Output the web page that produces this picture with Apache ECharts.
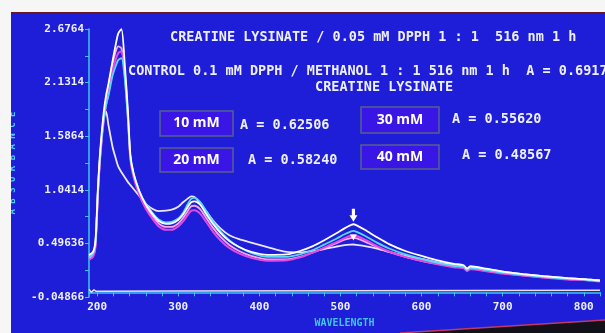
<!DOCTYPE html>
<html>
<head>
<meta charset="utf-8">
<script src="https://cdn.jsdelivr.net/npm/echarts@6.0.0/dist/echarts.min.js"></script>
<style>
  html, body { margin: 0; padding: 0; background: #ffffff; }
  #chart { width: 605px; height: 333px; }
</style>
</head>
<body>
<div id="chart"></div>
<script>
// wavelength grid (nm) shared by all sample spectra
const wavelength = [190, 195, 198, 201, 204, 208, 211, 214, 219, 223,
  226, 230, 234, 238, 241, 245, 252, 260, 268, 276,
  285, 292, 300, 306, 312, 316, 320, 327, 335, 343,
  352, 363, 375, 390, 410, 434, 450, 466, 480, 495,
  505, 512, 516, 520, 530, 545, 560, 580, 600, 620,
  640, 652, 656, 660, 680, 700, 725, 750, 780, 800,
  813, 820]

const control = [0.38, 0.41, 0.53, 1.06, 1.46, 1.82, 2.00, 2.12, 2.35, 2.52,
  2.63, 2.676, 2.33, 1.84, 1.40, 1.21, 1.03, 0.89, 0.80, 0.725,
  0.695, 0.70, 0.735, 0.79, 0.87, 0.915, 0.925, 0.89, 0.79, 0.695,
  0.605, 0.52, 0.46, 0.41, 0.38, 0.385, 0.42, 0.47, 0.53, 0.60,
  0.65, 0.68, 0.692, 0.68, 0.635, 0.56, 0.49, 0.42, 0.37, 0.325,
  0.29, 0.275, 0.24, 0.265, 0.24, 0.21, 0.185, 0.165, 0.145, 0.135,
  0.125, 0.12]

const mM10 = [0.36, 0.39, 0.50, 1.04, 1.42, 1.75, 1.90, 2.00, 2.20, 2.30,
  2.36, 2.38, 2.18, 1.76, 1.38, 1.20, 1.03, 0.90, 0.81, 0.74,
  0.71, 0.715, 0.75, 0.81, 0.90, 0.95, 0.96, 0.92, 0.82, 0.72,
  0.62, 0.53, 0.46, 0.40, 0.36, 0.36, 0.385, 0.43, 0.485, 0.545,
  0.59, 0.615, 0.625, 0.615, 0.575, 0.505, 0.445, 0.385, 0.34, 0.30,
  0.27, 0.258, 0.228, 0.248, 0.225, 0.20, 0.178, 0.158, 0.138, 0.13,
  0.12, 0.115]

const mM20 = [0.33, 0.36, 0.46, 1.00, 1.39, 1.73, 1.90, 2.02, 2.25, 2.37,
  2.43, 2.45, 2.22, 1.77, 1.35, 1.17, 0.99, 0.85, 0.75, 0.67,
  0.635, 0.635, 0.67, 0.72, 0.79, 0.83, 0.835, 0.80, 0.71, 0.615,
  0.53, 0.45, 0.395, 0.35, 0.32, 0.325, 0.355, 0.405, 0.455, 0.51,
  0.55, 0.575, 0.582, 0.572, 0.535, 0.47, 0.415, 0.36, 0.32, 0.285,
  0.255, 0.245, 0.215, 0.235, 0.215, 0.19, 0.17, 0.15, 0.13, 0.125,
  0.115, 0.11]

const mM30 = [0.34, 0.37, 0.48, 1.02, 1.42, 1.78, 1.96, 2.10, 2.32, 2.45,
  2.50, 2.48, 2.25, 1.80, 1.37, 1.19, 1.01, 0.87, 0.78, 0.70,
  0.665, 0.665, 0.70, 0.755, 0.83, 0.875, 0.88, 0.845, 0.75, 0.655,
  0.565, 0.48, 0.42, 0.37, 0.335, 0.335, 0.36, 0.405, 0.45, 0.50,
  0.535, 0.55, 0.556, 0.548, 0.515, 0.46, 0.41, 0.36, 0.32, 0.288,
  0.26, 0.25, 0.222, 0.24, 0.218, 0.195, 0.172, 0.153, 0.135, 0.127,
  0.118, 0.113]

const mM40 = [0.36, 0.39, 0.50, 1.00, 1.40, 1.76, 1.84, 1.70, 1.48, 1.36,
  1.28, 1.22, 1.17, 1.12, 1.09, 1.05, 0.98, 0.90, 0.85, 0.825,
  0.83, 0.84, 0.87, 0.915, 0.955, 0.975, 0.97, 0.90, 0.82, 0.73,
  0.65, 0.58, 0.54, 0.505, 0.46, 0.41, 0.405, 0.42, 0.44, 0.465,
  0.48, 0.485, 0.486, 0.482, 0.47, 0.445, 0.41, 0.37, 0.34, 0.305,
  0.28, 0.265, 0.24, 0.258, 0.235, 0.21, 0.185, 0.165, 0.145, 0.135,
  0.125, 0.12]

// blank / baseline trace
const baselineNm = [190, 193, 196, 199, 205, 300, 500, 820]
const baseline = [0.03, 0.0, 0.025, 0.01, 0.012, 0.014, 0.016, 0.02]

const yTicks = [-0.04866, 0.49636, 1.0414, 1.5864, 2.1314, 2.6764]
const yMinor = [0.22385, 0.76888, 1.3139, 1.8589, 2.4039]
const xTicks = [200, 300, 400, 500, 600, 700, 800]

const boxes = [
  { label: '10 mM', a: 'A = 0.62506' },
  { label: '20 mM', a: 'A = 0.58240' },
  { label: '30 mM', a: 'A = 0.55620' },
  { label: '40 mM', a: 'A = 0.48567' }
]

const BG = '#1e1ed8'
const CYAN = '#3ec6ea'
const TXT = '#eef0ff'
const MONO = '"DejaVu Sans Mono", monospace'

const xMinor = []
for (let w = 200; w <= 820; w += 20) xMinor.push(w)

function pairs(xs, ys) {
  return xs.map((x, i) => [x, ys[i]])
}

function spectrum(name, ys, color, width) {
  return {
    name,
    type: 'line',
    data: pairs(wavelength, ys),
    showSymbol: false,
    smooth: 0.25,
    lineStyle: { color, width: width || 1.8 },
    itemStyle: { color },
    emphasis: { disabled: true }
  }
}

const boxPos = [[160, 111, 73, 25], [160, 148, 73, 24], [361, 107, 78, 26], [361, 145, 78, 24]]
const aPos = [[240, 125], [248, 160], [452, 119], [462, 155]]

const graphics = [
  { type: 'rect', shape: { x: 0, y: 0, width: 605, height: 13 }, style: { fill: '#f6f6f6' }, z: 100 },
  { type: 'line', shape: { x1: 11, y1: 13, x2: 605, y2: 13 }, style: { stroke: '#6b1826', lineWidth: 2 }, z: 100 },
  { type: 'rect', shape: { x: 0, y: 0, width: 11, height: 333 }, style: { fill: '#f6f6f6' }, z: 100 },
  { type: 'polygon', shape: { points: [[400, 333], [605, 320], [605, 333]] }, style: { fill: '#121018' }, z: 100 },
  { type: 'polyline', shape: { points: [[400, 333], [605, 320]] }, style: { stroke: '#c23a63', lineWidth: 1.5 }, z: 100 },
  {
    type: 'text', left: 170, top: 30, z: 100,
    style: { text: 'CREATINE LYSINATE / 0.05 mM DPPH 1 : 1  516 nm 1 h', fill: TXT, font: 'bold 13.5px ' + MONO }
  },
  {
    type: 'text', left: 128, top: 64, z: 100,
    style: { text: 'CONTROL 0.1 mM DPPH / METHANOL 1 : 1 516 nm 1 h  A = 0.69176', fill: TXT, font: 'bold 13.5px ' + MONO }
  },
  {
    type: 'text', left: 315, top: 80, z: 100,
    style: { text: 'CREATINE LYSINATE', fill: TXT, font: 'bold 13.5px ' + MONO }
  }
]

boxes.forEach((b, i) => {
  const [x, y, w, h] = boxPos[i]
  graphics.push({
    type: 'rect', z: 100,
    shape: { x, y, width: w, height: h },
    style: { fill: '#3a16e6', stroke: '#56628c', lineWidth: 1.5 }
  })
  graphics.push({
    type: 'text', z: 101, x: x + w / 2, y: y + h / 2,
    style: { text: b.label, fill: '#ffffff', font: 'bold 14px "Open Sans", sans-serif', align: 'center', verticalAlign: 'middle' }
  })
  graphics.push({
    type: 'text', z: 101, x: aPos[i][0], y: aPos[i][1],
    style: { text: b.a, fill: TXT, font: 'bold 13.5px ' + MONO, verticalAlign: 'middle' }
  })
})

const chart = echarts.init(document.getElementById('chart'), null, { renderer: 'canvas' })

chart.setOption({
  backgroundColor: BG,
  animation: false,
  grid: { left: 88, right: 5, top: 29, bottom: 26 },
  xAxis: {
    type: 'value',
    min: 190,
    max: 820,
    name: 'WAVELENGTH',
    nameLocation: 'middle',
    nameGap: 20,
    nameTextStyle: { color: CYAN, fontFamily: MONO, fontSize: 10, fontWeight: 'bold' },
    axisLine: { lineStyle: { color: CYAN, width: 1.5 } },
    axisTick: { customValues: xMinor, length: 4, lineStyle: { color: CYAN } },
    axisLabel: { customValues: xTicks, color: TXT, fontFamily: MONO, fontSize: 11, fontWeight: 'bold', margin: 5 },
    splitLine: { show: false }
  },
  yAxis: {
    type: 'value',
    min: -0.04866,
    max: 2.6764,
    name: 'A B S O R B A N C E',
    nameLocation: 'middle',
    nameRotate: 90,
    nameGap: 72,
    nameTextStyle: { color: '#48d2f2', fontFamily: MONO, fontSize: 9, fontWeight: 'bold' },
    axisLine: { show: true, lineStyle: { color: CYAN, width: 1.5 } },
    axisTick: { show: true, customValues: yTicks.concat(yMinor), length: 4, lineStyle: { color: CYAN } },
    axisLabel: {
      customValues: yTicks,
      color: TXT, fontFamily: MONO, fontSize: 11, fontWeight: 'bold', margin: 5,
      formatter: v => String(v)
    },
    splitLine: { show: false }
  },
  series: [
    {
      name: 'BASELINE',
      type: 'line',
      data: pairs(baselineNm, baseline),
      showSymbol: false,
      lineStyle: { color: '#f2dcf2', width: 1.5 },
      emphasis: { disabled: true }
    },
    spectrum('40 mM', mM40, '#ece6ff'),
    spectrum('30 mM', mM30, '#f7a6ec'),
    spectrum('20 mM', mM20, '#e448e4', 2),
    spectrum('10 mM', mM10, '#56d8f5'),
    Object.assign(spectrum('CONTROL', control, '#ffffff'), {
      markPoint: {
        silent: true,
        label: { show: false },
        data: [
          {
            coord: [516, 0.692],
            symbol: 'path://M3,0 L7,0 L7,6 L10,6 L5,12 L0,6 L3,6 Z',
            symbolSize: [8, 13],
            symbolOffset: [0, -9],
            itemStyle: { color: '#ffffff' }
          },
          {
            coord: [516, 0.556],
            symbol: 'triangle',
            symbolRotate: 180,
            symbolSize: [7, 6],
            itemStyle: { color: '#ffffff' }
          }
        ]
      }
    })
  ],
  graphic: graphics
})
</script>
</body>
</html>
